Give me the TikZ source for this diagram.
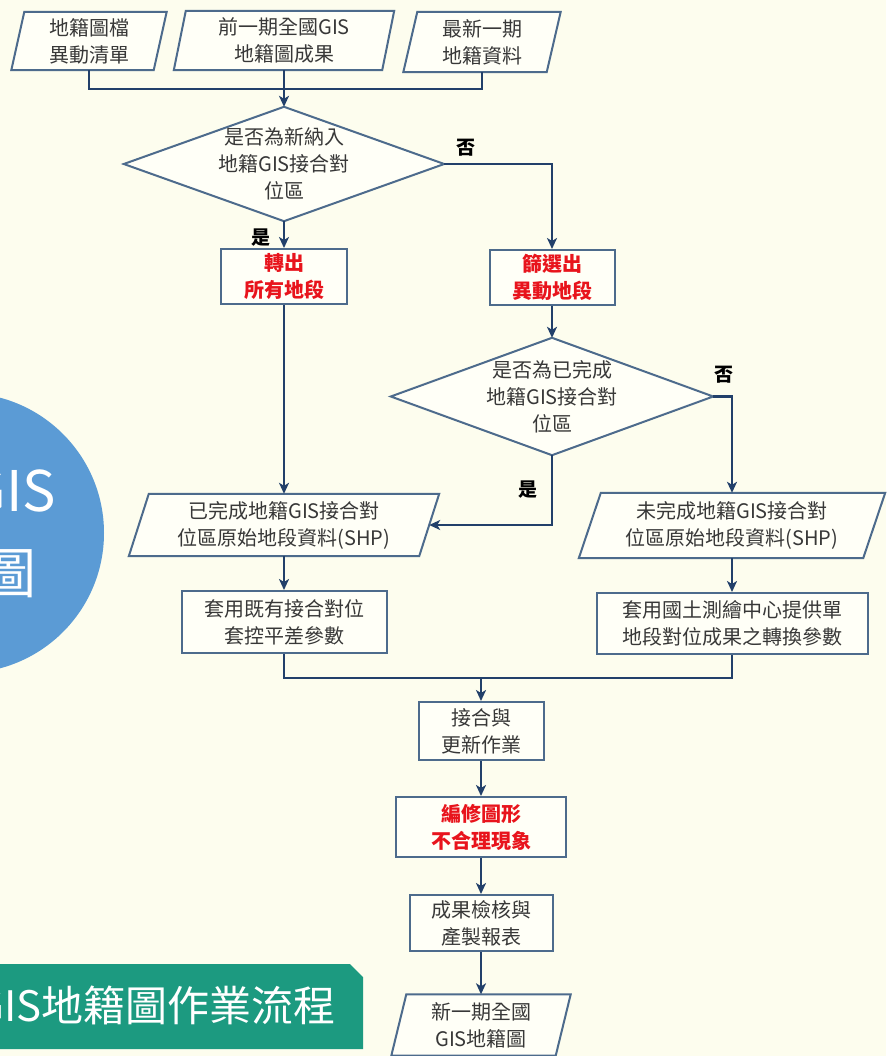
\documentclass[tikz,border=0pt]{standalone}
\usepackage{fontspec}
\setmainfont{Noto Sans CJK TC}
\usetikzlibrary{arrows.meta,backgrounds}
\definecolor{bgcream}{HTML}{FDFDEE}
\definecolor{boxfill}{HTML}{FFFFF7}
\definecolor{bordcol}{HTML}{4D6B8C}
\definecolor{conncol}{HTML}{22406A}
\definecolor{txtgray}{HTML}{383838}
\definecolor{redtxt}{HTML}{E8141C}
\definecolor{circblue}{HTML}{5B9BD5}
\definecolor{bannergreen}{HTML}{1C9A80}
\tikzset{
 basetext/.style={font=\fontsize{20}{27}\selectfont, text=txtgray, align=center, inner sep=0pt},
 procbox/.style={basetext, draw=bordcol, line width=2pt, fill=boxfill},
 redbox/.style={procbox, text=redtxt, font=\fontsize{20}{27}\selectfont\bfseries},
 hiddenbox/.style={basetext},
 shapeline/.style={draw=bordcol, line width=2pt, fill=boxfill},
 link/.style={draw=conncol, line width=2.4pt},
 arrowlink/.style={link, -{Stealth[length=11pt,width=10pt,inset=3pt]}},
 yesno/.style={font=\fontsize{19}{22}\selectfont\bfseries, text=black, inner sep=0pt},
}
% name, x, y, width, height, half slant, text
\newcommand\parabox[7]{%
 \node[hiddenbox, minimum width=#4pt, minimum height=#5pt] (#1) at (#2,#3) {#7};
 \begin{scope}[on background layer]
 \path[shapeline] ([xshift=#6pt]#1.north west) -- ([xshift=#6pt]#1.north east)
   -- ([xshift=-#6pt]#1.south east) -- ([xshift=-#6pt]#1.south west) -- cycle;
 \end{scope}}
% name, x, y, width, height, text
\newcommand\decbox[6]{%
 \node[hiddenbox, minimum width=#4pt, minimum height=#5pt] (#1) at (#2,#3) {#6};
 \begin{scope}[on background layer]
 \path[shapeline] (#1.north) -- (#1.east) -- (#1.south) -- (#1.west) -- cycle;
 \end{scope}}
\begin{document}
\begin{tikzpicture}[x=1pt,y=-1pt]
\useasboundingbox (0,0) rectangle (886,1056);
\begin{scope}[on background layer]
\fill[bgcream] (0,0) rectangle (886,1056);
\end{scope}

% left decorations
\fill[circblue] (-36,533) circle[radius=140];
\node[font=\fontsize{56}{56}\selectfont, text=white, inner sep=0pt, anchor=base east] (circgis) at (56,511) {GIS};
\node[font=\fontsize{55}{55}\selectfont, text=white, inner sep=0pt, anchor=base east] (circtu) at (37,593) {圖};
\fill[bannergreen] (-2,964) -- (350,964) -- (363,977) -- (363,1049) -- (-2,1049) -- cycle;
\node[font=\fontsize{42}{42}\selectfont, text=white, inner sep=0pt, anchor=base east] (banner) at (336,1021) {GIS地籍圖作業流程};

% inputs
\parabox{i1}{89}{41}{142}{58}{6.5}{地籍圖檔\\異動清單}
\parabox{i2}{284}{40.5}{208}{59}{6}{前一期全國GIS\\地籍圖成果}
\parabox{i3}{482}{42}{143}{60}{7}{最新一期\\地籍資料}

% decisions and boxes
\decbox{d1}{284}{164}{320}{114}{是否為新納入\\地籍GIS接合對\\位區}
\node[redbox, minimum width=126pt, minimum height=55pt] (b1) at (284,276.5) {轉出\\所有地段};
\node[redbox, minimum width=125pt, minimum height=55pt] (b2) at (552,277.5) {篩選出\\異動地段};
\decbox{d2}{552}{396.5}{322}{117}{是否為已完成\\地籍GIS接合對\\位區}
\parabox{p1}{284}{525}{290}{62}{10}{已完成地籍GIS接合對\\位區原始地段資料(SHP)}
\parabox{p2}{732}{525.5}{284}{65}{11}{未完成地籍GIS接合對\\位區原始地段資料(SHP)}
\node[procbox, minimum width=205pt, minimum height=62pt] (b3) at (284,622) {套用既有接合對位\\套控平差參數};
\node[procbox, minimum width=271pt, minimum height=61pt] (b4) at (732,623.5) {套用國土測繪中心提供單\\地段對位成果之轉換參數};
\node[procbox, minimum width=125pt, minimum height=58pt] (b5) at (481,731) {接合與\\更新作業};
\node[redbox, minimum width=170pt, minimum height=60pt] (b6) at (481,827) {編修圖形\\不合理現象};
\node[procbox, minimum width=143pt, minimum height=56pt] (b7) at (481,923) {成果檢核與\\產製報表};
\parabox{p3}{481}{1025}{164}{61}{7.5}{新一期全國\\GIS地籍圖};

% labels
\node[yesno] (no1) at (466,148) {否};
\node[yesno] (yes1) at (261,238) {是};
\node[yesno] (no2) at (724,375) {否};
\node[yesno] (yes2) at (528,490) {是};

% connectors
\coordinate (jtop) at (284,89);
\draw[link] (i1.south) |- (jtop) -| (i3.south);
\draw[arrowlink] (i2.south) -- (d1.north);
\draw[arrowlink] (d1.south) -- (b1.north);
\draw[arrowlink] (d1.east) -| (b2.north);
\draw[arrowlink] (b2.south) -- (d2.north);
\draw[arrowlink] (b1.south) -- (p1.north);
\draw[arrowlink] (d2.south) |- (p1.east);
\draw[arrowlink] (d2.east) -| (p2.north);
\draw[arrowlink] (p1.south) -- (b3.north);
\draw[arrowlink] (p2.south) -- (b4.north);
\coordinate (jmid) at (481,678);
\draw[link] (b3.south) |- (jmid) -| (b4.south);
\draw[arrowlink] (jmid) -- (b5.north);
\draw[arrowlink] (b5.south) -- (b6.north);
\draw[arrowlink] (b6.south) -- (b7.north);
\draw[arrowlink] (b7.south) -- (p3.north);
\end{tikzpicture}
\end{document}
